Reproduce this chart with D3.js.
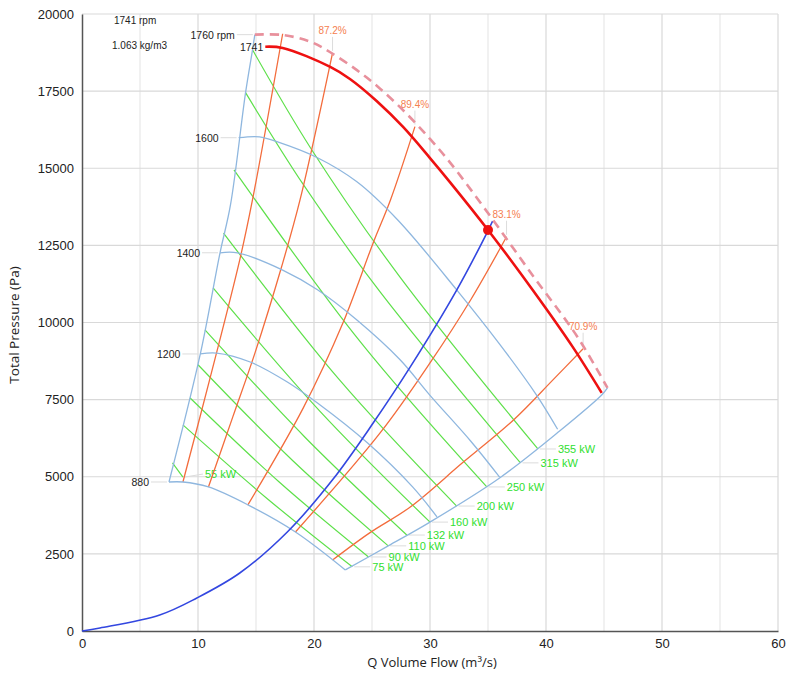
<!DOCTYPE html>
<html>
<head>
<meta charset="utf-8">
<script src="https://cdn.jsdelivr.net/npm/d3@7"></script>
<style>
  body { margin: 0; background: #fff; }
</style>
</head>
<body>
<script>
// axis ticks
var xTicks = [0, 10, 20, 30, 40, 50, 60];
var xGrid = [5, 10, 15, 20, 25, 30, 35, 40, 45, 50, 55, 60];
var yTicks = [0, 2500, 5000, 7500, 10000, 12500, 15000, 17500, 20000];

// fan curves [Q m3/s, Pa]
var curve1760 = [[14.9,19330],[17.3,19320],[19.7,19100],[21.4,18760],[23.7,18180],[25.7,17580],[28.0,16760],[30.0,15950],[31.7,15200],[34.9,13600],[38.9,11500],[42.7,9540],[45.3,7880]];
var curve1741 = [[15.8,18940],[17.3,18900],[21.4,18285],[23.1,17895],[25.4,17180],[27.7,16330],[30.0,15330],[31.7,14560],[35.0,13000],[38.9,11030],[42.3,9210],[44.8,7720]];
var curve1600 = [[13.5,15990],[15.3,16020],[16.8,15860],[20.3,15340],[23.7,14560],[27.2,13330],[32.3,11060],[36.0,9300],[39.2,7640],[41.0,6540]];
var curve1400 = [[11.9,12260],[13.4,12260],[17.3,11700],[20.3,11060],[23.7,10080],[27.4,8800],[30.0,7640],[33.5,6160],[36.0,4990]];
var curve1200 = [[10.2,8980],[11.6,9010],[14.5,8720],[17.7,8070],[20.3,7390],[24.6,6100],[28.5,4670],[30.6,3700]];
var curve880 = [[7.5,4830],[8.7,4830],[10.9,4670],[14.3,4090],[18.4,3210],[22.7,1980]];
var leftEdge = [[14.9,19330],[14.7,18840],[14.1,17450],[12.8,13810],[11.9,12260],[10.2,8980],[7.5,4830]];
var rightEdge = [[22.7,1980],[26.4,2760],[30.0,3530],[36.0,4960],[41.2,6490],[44.8,7650],[45.3,7880]];
var rpmLabels = ["1760 rpm", "1741", "1600", "1400", "1200", "880"];

// system curve
var system = [[0,0],[1.55,100],[6.7,520],[9.9,1070],[13.6,1880],[17.7,3210],[21.6,4900],[25.1,6740],[28.3,8560],[32.3,11050],[34.9,12900],[35.4,13290]];
var dutyPoint = [35.0, 13000];

// efficiency lines
var eff1 = [[8.7,4830],[11.0,8140],[13.6,12030],[14.7,13980],[17.3,19360]];
var eff2 = [[10.9,4670],[13.0,6940],[14.9,9000],[17.2,11800],[18.8,13980],[21.6,18740]];
var eff3 = [[14.3,4090],[19.1,7250],[22.5,9990],[25.1,12580],[26.6,13980],[28.7,16350]];
var eff4 = [[18.4,3210],[25.7,6420],[30.0,8690],[33.5,10730],[36.6,12780]];
var eff5 = [[21.6,2300],[24.8,3180],[28.3,4020],[32.8,5450],[37.2,6840],[40.6,8140],[43.2,9150]];
var effLabels = ["", "87.2%", "89.4%", "83.1%", "70.9%"];

// power lines
var p55 = [[7.8,5450],[8.7,4990]];
var p75 = [[8.7,6680],[16.0,4280],[23.3,2080]];
var p90 = [[9.3,7560],[17.0,4830],[24.7,2400]];
var p110 = [[10.0,8630],[18.2,5510],[26.4,2760]];
var p132 = [[10.6,9760],[19.2,6290],[28.0,3110]];
var p160 = [[11.3,11120],[20.5,7130],[30.0,3530]];
var p200 = [[12.2,12900],[22.2,8140],[32.3,4050]];
var p250 = [[13.1,14950],[24.0,9370],[34.9,4670]];
var p315 = [[14.1,17450],[19.1,14460],[25.7,10990],[37.8,5450]];
var p355 = [[14.7,18840],[19.8,15600],[27.4,11480],[39.3,5900]];
var powerLabels = ["55 kW", "75 kW", "90 kW", "110 kW", "132 kW", "160 kW", "200 kW", "250 kW", "315 kW", "355 kW"];

var width = 800, height = 677;
var mLeft = 82, mRight = 778, mTop = 14, mBottom = 631;

var svg = d3.select('body').append('svg')
    .attr('width', width)
    .attr('height', height)
    .attr('font-family', '"Liberation Sans", Arial, sans-serif');

var x = d3.scaleLinear().domain([0, 60]).range([mLeft, mRight]);
var y = d3.scaleLinear().domain([0, 20000]).range([mBottom, mTop]);

// grid
svg.selectAll('.vgrid').data(xGrid).enter().append('line')
    .attr('x1', d => x(d)).attr('x2', d => x(d))
    .attr('y1', mTop).attr('y2', mBottom)
    .attr('stroke', d => d % 10 ? '#e8e8e8' : '#d9d9d9').attr('stroke-width', 1.2);
svg.selectAll('.hgrid').data(yTicks.slice(1)).enter().append('line')
    .attr('x1', mLeft).attr('x2', mRight)
    .attr('y1', d => y(d)).attr('y2', d => y(d))
    .attr('stroke', '#d9d9d9').attr('stroke-width', 1.2);

// axes
var xAxis = svg.append('g').attr('transform', 'translate(0,' + mBottom + ')')
    .call(d3.axisBottom(x).tickValues(xTicks).tickSize(0).tickPadding(8));
var yAxis = svg.append('g').attr('transform', 'translate(' + mLeft + ',0)')
    .call(d3.axisLeft(y).tickValues(yTicks).tickFormat(d3.format('d')).tickSize(0).tickPadding(8));
[xAxis, yAxis].forEach(function (a) {
    a.select('.domain').attr('stroke', '#555').attr('stroke-width', 1.5);
    a.selectAll('text').attr('font-size', 13).attr('fill', '#222')
        .attr('font-family', '"Liberation Sans", Arial, sans-serif');
});

svg.append('text')
    .attr('x', 432).attr('y', 667)
    .attr('text-anchor', 'middle').attr('font-size', 13).attr('fill', '#222')
    .attr('font-family', '"Open Sans", sans-serif')
    .text('Q Volume Flow (m³/s)');
svg.append('text')
    .attr('transform', 'translate(19,325) rotate(-90)')
    .attr('text-anchor', 'middle').attr('font-size', 13.5).attr('fill', '#222')
    .attr('font-family', '"Open Sans", sans-serif')
    .text('Total Pressure (Pa)');

svg.append('text').attr('x', 114).attr('y', 24).attr('font-size', 10).attr('fill', '#222').text('1741 rpm');
svg.append('text').attr('x', 112).attr('y', 49).attr('font-size', 10).attr('fill', '#222').text('1.063 kg/m3');

var smooth = d3.line().x(d => x(d[0])).y(d => y(d[1])).curve(d3.curveCatmullRom.alpha(0.5));

function leader(x1, y1, x2, y2) {
    svg.append('line').attr('x1', x1).attr('y1', y1).attr('x2', x2).attr('y2', y2)
        .attr('stroke', '#dcdcdc').attr('stroke-width', 1);
}

// power lines
var powerLines = [p55, p75, p90, p110, p132, p160, p200, p250, p315, p355];
svg.selectAll('.power').data(powerLines).enter().append('path')
    .attr('d', smooth).attr('fill', 'none')
    .attr('stroke', '#5ee04a').attr('stroke-width', 1.2);
powerLines.forEach(function (pl, i) {
    var e = pl[pl.length - 1];
    var ex = x(e[0]), ey = y(e[1]);
    var lx = i === 0 ? ex + 22 : ex + 20;
    var ly = i === 0 ? ey - 3 : ey;
    leader(ex + 2, ey, lx - 2, ly);
    svg.append('text').attr('x', lx).attr('y', ly + 4)
        .attr('font-size', 11).attr('fill', '#2fe02f').text(powerLabels[i]);
});

// efficiency lines
var effLines = [eff1, eff2, eff3, eff4, eff5];
svg.selectAll('.eff').data(effLines).enter().append('path')
    .attr('d', smooth).attr('fill', 'none')
    .attr('stroke', '#f36c3c').attr('stroke-width', 1.3);
effLines.forEach(function (el, i) {
    if (!effLabels[i]) return;
    var t = el[el.length - 1];
    var tx = x(t[0]), ty = y(t[1]);
    leader(tx, ty - 2, tx, ty - 16);
    svg.append('text').attr('x', tx).attr('y', ty - 19)
        .attr('text-anchor', 'middle').attr('font-size', 10).attr('fill', '#f58050')
        .text(effLabels[i]);
});

// rpm curves and envelope
var rpmCurves = [curve1600, curve1400, curve1200, curve880, leftEdge, rightEdge];
svg.selectAll('.rpm').data(rpmCurves).enter().append('path')
    .attr('d', smooth).attr('fill', 'none')
    .attr('stroke', '#8fb7df').attr('stroke-width', 1.3);

// system curve
svg.append('path').attr('d', smooth(system)).attr('fill', 'none')
    .attr('stroke', '#3347e0').attr('stroke-width', 1.6);

// 1760 dashed and 1741 solid
svg.append('path').attr('d', smooth(curve1760)).attr('fill', 'none')
    .attr('stroke', '#e8909c').attr('stroke-width', 2.6).attr('stroke-dasharray', '9,6');
svg.append('path').attr('d', smooth(curve1741)).attr('fill', 'none')
    .attr('stroke', '#ee1111').attr('stroke-width', 2.6);

svg.append('circle')
    .attr('cx', x(dutyPoint[0])).attr('cy', y(dutyPoint[1]))
    .attr('r', 5).attr('fill', '#ee1111');

// rpm labels
var labelCurves = [curve1760, curve1741, curve1600, curve1400, curve1200, curve880];
labelCurves.forEach(function (c, i) {
    var sx = x(c[0][0]), sy = y(c[0][1]);
    var gap = i === 1 ? 2 : 20;
    if (i !== 1) leader(sx - 2, sy, sx - gap + 2, sy);
    svg.append('text').attr('x', sx - gap).attr('y', sy + 4)
        .attr('text-anchor', 'end').attr('font-size', 10.5).attr('fill', '#222')
        .text(rpmLabels[i]);
});
</script>
</body>
</html>
